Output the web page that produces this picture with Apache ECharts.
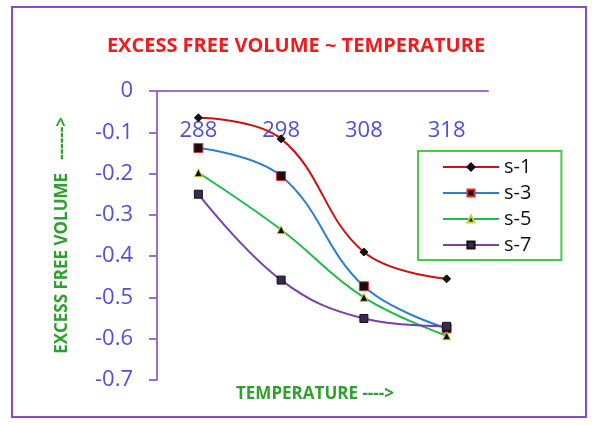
<!DOCTYPE html>
<html>
<head>
<meta charset="utf-8">
<script src="https://cdn.jsdelivr.net/npm/echarts@6/dist/echarts.min.js"></script>
<style>
  html, body { margin: 0; padding: 0; background: #fff; }
  #chart { width: 592px; height: 425px; }
</style>
</head>
<body>
<div id="chart"></div>
<script>
// temperatures (K)
var temps = ['288', '298', '308', '318'];

// excess free volume per solution
var s1 = [-0.065, -0.116, -0.39, -0.455];
var s3 = [-0.138, -0.206, -0.473, -0.575];
var s5 = [-0.198, -0.336, -0.5, -0.593];
var s7 = [-0.25, -0.458, -0.551, -0.57];

var chartDom = document.getElementById('chart');
var myChart = echarts.init(chartDom);

function line(name, data, color, symbol, symColor, symBorder, size) {
  return {
    name: name,
    type: 'line',
    data: data,
    smooth: 0.4,
    symbol: symbol,
    symbolSize: size,
    lineStyle: { color: color, width: 2 },
    itemStyle: { color: symColor, borderColor: symBorder, borderWidth: 1 }
  };
}

var option = {
  animation: false,
  title: {
    text: 'EXCESS FREE VOLUME ~ TEMPERATURE',
    left: 'center',
    top: 31,
    textStyle: { color: '#ee1c1c', fontSize: 20, fontWeight: 'bold', fontFamily: 'Open Sans' }
  },
  legend: {
    orient: 'vertical',
    left: 418,
    top: 151,
    padding: [6, 30, 5, 24],
    itemWidth: 56,
    itemHeight: 9,
    itemGap: 6,
    borderColor: '#44cc44',
    borderWidth: 2,
    textStyle: { fontSize: 20, color: '#111', fontFamily: 'Open Sans' },
    data: ['s-1', 's-3', 's-5', 's-7']
  },
  grid: { left: 157, right: 104, top: 91, bottom: 45 },
  xAxis: {
    type: 'category',
    position: 'top',
    data: temps,
    axisLine: { lineStyle: { color: '#9b6fd0', width: 2 } },
    axisTick: { inside: true, length: 7, lineStyle: { color: '#9b6fd0', width: 2 } },
    axisLabel: { inside: true, margin: 29, fontSize: 22, color: '#5050d8', fontFamily: 'Open Sans' }
  },
  yAxis: {
    type: 'value',
    min: -0.7,
    max: 0,
    interval: 0.1,
    splitLine: { show: false },
    axisLine: { show: true, lineStyle: { color: '#9b6fd0', width: 2 } },
    axisTick: { show: true, length: 8, lineStyle: { color: '#9b6fd0', width: 2 } },
    axisLabel: {
      fontSize: 22, color: '#5050d8', margin: 24, fontFamily: 'Open Sans',
      formatter: function (v) { return v === 0 ? '0' : v.toFixed(1); }
    },
    name: 'EXCESS FREE VOLUME   ------>',
    nameLocation: 'middle',
    nameGap: 86,
    nameRotate: 90,
    nameTextStyle: { color: '#2ea02e', fontSize: 17, fontWeight: 'bold', fontFamily: 'Open Sans' }
  },
  graphic: [
    {
      type: 'rect',
      shape: { x: 12, y: 7, width: 574, height: 410 },
      style: { fill: 'none', stroke: '#8a4cc2', lineWidth: 2 },
      silent: true
    },
    {
      type: 'text',
      left: 236,
      top: 386,
      style: { text: 'TEMPERATURE ---->', fill: '#2ea02e', fontSize: 17, fontWeight: 'bold', fontFamily: 'Open Sans' }
    }
  ],
  series: [
    line('s-1', s1, '#cc1111', 'diamond', '#111', '#111', 8),
    line('s-3', s3, '#2a7fd4', 'rect', '#111', '#e03030', 9),
    line('s-5', s5, '#22b84a', 'triangle', '#111', '#c8d040', 8),
    line('s-7', s7, '#7a3fb0', 'rect', '#3a2a50', '#111', 8)
  ]
};

option && myChart.setOption(option);
</script>
</body>
</html>
